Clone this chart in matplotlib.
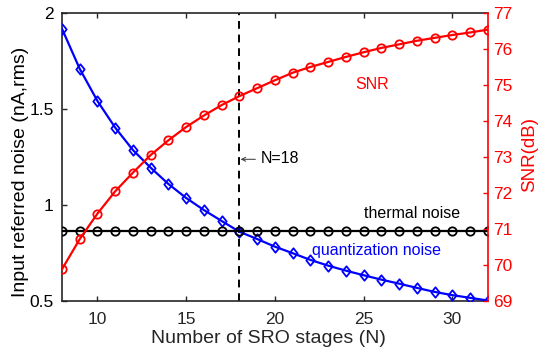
import matplotlib
matplotlib.use("Agg")
import matplotlib.pyplot as plt
from matplotlib.path import Path

plt.rcParams['font.family'] = ['Liberation Sans', 'DejaVu Sans']

N = list(range(8, 33))
quant_noise = [1.92, 1.711, 1.543, 1.404, 1.287, 1.195, 1.110, 1.037, 0.974, 0.917,
               0.861, 0.823, 0.783, 0.749, 0.714, 0.684, 0.658, 0.634, 0.611, 0.590,
               0.568, 0.547, 0.530, 0.516, 0.502]
thermal_noise = [0.865] * len(N)
snr = [69.88, 70.72, 71.43, 72.05, 72.57, 73.06, 73.47, 73.84, 74.16, 74.45,
       74.70, 74.92, 75.14, 75.35, 75.51, 75.65, 75.79, 75.92, 76.04, 76.14,
       76.24, 76.32, 76.40, 76.47, 76.55]

diamond = Path([(0, 1), (0.8, 0), (0, -1), (-0.8, 0), (0, 1)],
               [Path.MOVETO, Path.LINETO, Path.LINETO, Path.LINETO, Path.CLOSEPOLY])

fig = plt.figure(figsize=(5.39, 3.54), dpi=100)
ax = fig.add_axes([0.115, 0.150, 0.790, 0.812])
ax2 = ax.twinx()

ax.plot(N, quant_noise, color='#0000ff', lw=1.6, marker=diamond, markersize=7.5,
        markerfacecolor='none', markeredgewidth=1.3, zorder=3)
ax.plot(N, thermal_noise, color='black', lw=1.6, marker='o', markersize=6,
        markerfacecolor='none', markeredgewidth=1.3, zorder=3)
ax2.plot(N, snr, color='#ff0000', lw=1.6, marker='o', markersize=6,
         markerfacecolor='none', markeredgewidth=1.3, zorder=3)

ax.axvline(18, color='black', ls=(0, (4, 3)), lw=1.4)

ax.set_xlim(8, 32)
ax.set_ylim(0.5, 2)
ax2.set_ylim(69, 77)
ax.set_xticks([10, 15, 20, 25, 30])
ax.set_yticks([0.5, 1, 1.5, 2])
ax.set_yticklabels(['0.5', '1', '1.5', '2'])
ax2.set_yticks(range(69, 78))

ax.tick_params(axis='both', direction='in', labelsize=12.5, length=3.5, width=1, top=True,
               colors='#262626')
ax.tick_params(axis='y', labelcolor='black', pad=6)
ax.tick_params(axis='x', labelcolor='#262626', pad=8)
ax2.tick_params(axis='y', direction='in', labelsize=12.5, length=3.5, width=1,
                colors='#ff0000', pad=4)

for s in ['left', 'top', 'bottom']:
    ax.spines[s].set_color('#262626')
    ax.spines[s].set_linewidth(1.2)
ax.spines['right'].set_visible(False)
ax2.spines['right'].set_color('#ff0000')
ax2.spines['right'].set_linewidth(1.2)
ax2.spines['left'].set_visible(False)
ax2.spines['top'].set_visible(False)
ax2.spines['bottom'].set_visible(False)

ax.set_xlabel('Number of SRO stages (N)', fontsize=14, color='#262626')
ax.xaxis.set_label_coords(0.486, -0.10)
ax.set_ylabel('Input referred noise (nA,rms)', fontsize=14, color='black')
ax.yaxis.set_label_coords(-0.077, 0.448)
ax2.set_ylabel('SNR(dB)', fontsize=13.5, color='#ff0000')
ax2.yaxis.set_label_coords(1.078, 0.511)

ax.annotate('', xy=(18.07, 1.239), xytext=(18.9, 1.239),
            arrowprops=dict(arrowstyle='->', lw=0.7, color='#333333',
                            shrinkA=0, shrinkB=0, mutation_scale=7))
ax.text(19.2, 1.218, 'N=18', fontsize=11.5, color='black', va='baseline', ha='left')
ax2.text(25.5, 74.91, 'SNR', fontsize=11.5, color='#ff0000', va='baseline', ha='center')
ax.text(27.73, 0.933, 'thermal noise', fontsize=11.5, color='black', va='baseline', ha='center')
ax.text(25.7, 0.740, 'quantization noise', fontsize=11.5, color='#0000ff', va='baseline', ha='center')

fig.savefig('out.png', dpi=100)
